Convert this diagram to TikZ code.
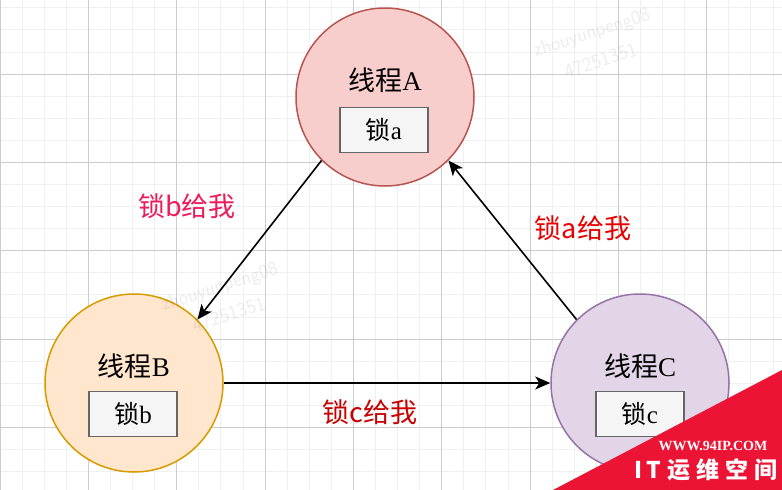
\documentclass[tikz,border=0pt]{standalone}
\usepackage{fontspec}
\setmainfont{Liberation Serif}
\newfontfamily\cjk{Noto Sans CJK SC}
\usetikzlibrary{arrows.meta}

\definecolor{redfill}{HTML}{F8CECC}
\definecolor{redline}{HTML}{B85450}
\definecolor{orangefill}{HTML}{FFE6CC}
\definecolor{orangeline}{HTML}{D79B00}
\definecolor{purplefill}{HTML}{E1D5E7}
\definecolor{purpleline}{HTML}{9673A6}
\definecolor{boxfill}{HTML}{F5F5F5}
\definecolor{boxline}{HTML}{666666}
\definecolor{askpink}{RGB}{236,28,92}
\definecolor{askred}{RGB}{232,0,0}
\definecolor{askdark}{RGB}{200,0,0}
\definecolor{cornerred}{RGB}{236,20,52}

\begin{document}
\begin{tikzpicture}[x=1pt,y=-1pt,
		thread/.style={circle, line width=1.5pt, minimum size=178pt, inner sep=0pt},
		lockbox/.style={draw=boxline, fill=boxfill, line width=1.8pt, minimum width=88pt, minimum height=45pt, inner sep=0pt, font=\fontsize{25}{28}\selectfont},
		threadname/.style={font=\fontsize{27}{30}\selectfont},
		ask/.style={font=\cjk\fontsize{27}{30}\selectfont},
		faint/.style={black, opacity=0.07, rotate=18, align=center, font=\sffamily\fontsize{20}{30}\selectfont},
		flow/.style={-{Stealth[length=15pt,width=13pt,inset=4pt]}, line width=1.6pt}]
	\useasboundingbox (0,0) rectangle (782,490);
	\fill[white] (0,0) rectangle (782,490);
	% grid
	\foreach \i in {0,...,35}
		\draw[black!6, line width=0.8pt] (\i*22.083,0) -- (\i*22.083,490);
	\foreach \j in {0,...,22}
		\draw[black!6, line width=0.8pt] (0,7.75+\j*22.083) -- (782,7.75+\j*22.083);
	\foreach \i in {0,...,8}
		\draw[black!20, line width=0.8pt] (\i*88.33,0) -- (\i*88.33,490);
	\foreach \j in {0,...,5}
		\draw[black!20, line width=0.8pt] (0,74+\j*88.33) -- (782,74+\j*88.33);
	% threads
	\node[thread, fill=redfill, draw=redline] (A) at (385,97) {};
	\node[thread, fill=orangefill, draw=orangeline] (B) at (134,383) {};
	\node[thread, fill=purplefill, draw=purpleline] (C) at (640,383) {};
	\node[threadname] (nameA) at (385,80) {{\cjk 线程}A};
	\node[threadname] (nameB) at (134,366) {{\cjk 线程}B};
	\node[threadname] (nameC) at (640,366) {{\cjk 线程}C};
	\node[lockbox] (lockA) at (384,130) {{\cjk 锁}a};
	\node[lockbox] (lockB) at (133,414) {{\cjk 锁}b};
	\node[lockbox] (lockC) at (640,414) {{\cjk 锁}c};
	% requests
	\draw[flow] (A.225) -- (B.45);
	\draw[flow] (C.135) -- (A.-45);
	\draw[flow] (B.east) -- (C.west);
	\node[ask, askpink] (askB) at (187,206) {锁b给我};
	\node[ask, askred] (askA) at (583,228) {锁a给我};
	\node[ask, askdark] (askC) at (370,412) {锁c给我};
	% faint marks
	\node[faint] (markTop) at (596,46) {zhouyunpeng08\\47251351};
	\node[faint] (markLeft) at (224,300) {zhouyunpeng08\\47251351};
	% corner
	\fill[cornerred] (553,490) -- (782,370) -- (782,490) -- cycle;
	\node[white, font=\bfseries\fontsize{14}{16}\selectfont] (site) at (713,446) {WWW.94IP.COM};
	\node[white, font=\cjk\bfseries\fontsize{23}{26}\selectfont] (brand) at (706,470) {I\kern4pt T\kern6pt 运\kern6pt 维\kern6pt 空\kern6pt 间};
\end{tikzpicture}
\end{document}
